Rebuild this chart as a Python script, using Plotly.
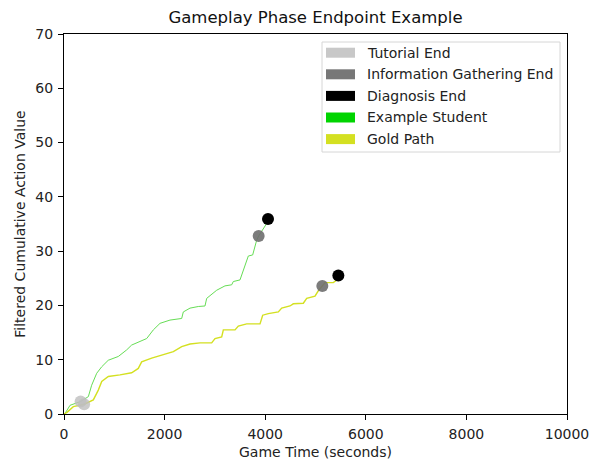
import plotly.graph_objects as go

# ── Data ──────────────────────────────────────────────────────────────────────
student_t = [0, 20, 120, 330, 484, 550, 650, 750, 880, 1080, 1245, 1345, 1644,
             1776, 1909, 2107, 2340, 2372, 2505, 2670, 2803, 2837, 3036, 3200,
             3334, 3366, 3499, 3598, 3664, 3751, 3830, 3870, 4030, 4056]
student_v = [0, 0.1, 1.6, 2.3, 3.2, 5.3, 7.5, 8.7, 9.9, 10.6, 11.8, 12.7, 13.9,
             15.5, 16.7, 17.3, 17.6, 18.8, 19.5, 19.8, 19.9, 21.3, 22.8, 23.6,
             23.8, 24.4, 24.7, 27.4, 29.1, 29.3, 32.0, 32.8, 35.1, 35.9]

gold_t = [0, 60, 185, 400, 583, 682, 750, 881, 1113, 1345, 1477, 1544, 1743,
          1942, 2174, 2340, 2505, 2704, 2936, 3002, 3135, 3168, 3400, 3466,
          3632, 3897, 3950, 4062, 4261, 4328, 4493, 4559, 4758, 4825, 4990,
          5056, 5136, 5189, 5354, 5454, 5454]
gold_v = [0, 0.3, 1.35, 1.8, 2.6, 4.4, 6.0, 6.9, 7.2, 7.6, 8.4, 9.6, 10.3,
          10.9, 11.5, 12.4, 12.9, 13.1, 13.1, 13.9, 14.2, 15.5, 15.5, 16.2,
          16.6, 16.6, 18.2, 18.5, 18.8, 19.5, 19.9, 20.3, 20.4, 21.3, 21.7,
          22.7, 23.6, 24.2, 24.2, 24.9, 25.5]

# phase endpoints: [student, gold]
tutorial_t, tutorial_v = [330, 400], [2.3, 1.8]
info_t, info_v = [3870, 5136], [32.8, 23.6]
diag_t, diag_v = [4056, 5454], [35.9, 25.5]

legend_labels = ['Tutorial End', 'Information Gathering End', 'Diagnosis End',
                 'Example Student', 'Gold Path']
legend_colors = ['#c8c8c8', '#777777', '#000000', '#00d400', '#d4e021']

x_ticks = [0, 2000, 4000, 6000, 8000, 10000]
x_ticktext = ['0', '2000', '4000', '6000', '8000', '10000']
y_ticks = [0, 10, 20, 30, 40, 50, 60, 70]

FONT = 'DejaVu Sans'

fig = go.Figure()

fig.add_trace(go.Scatter(x=student_t, y=student_v, mode='lines',
                         line=dict(color='#66dd55', width=1)))
fig.add_trace(go.Scatter(x=gold_t, y=gold_v, mode='lines',
                         line=dict(color='#d4e021', width=1.4)))

fig.add_trace(go.Scatter(x=tutorial_t, y=tutorial_v, mode='markers',
                         marker=dict(color='rgba(190,190,190,0.8)', size=12)))
fig.add_trace(go.Scatter(x=info_t, y=info_v, mode='markers',
                         marker=dict(color='rgba(110,110,110,0.9)', size=12)))
fig.add_trace(go.Scatter(x=diag_t, y=diag_v, mode='markers',
                         marker=dict(color='#000000', size=12)))

# ── Layout in screen pixels (page body adds an 8px offset) ────────────────────
OFF = 8
SW, SH = 597, 460
W, H = SW - OFF, SH - OFF
left, right, top, bottom = 64, 567, 34, 414   # plot box on screen
ml, mt = left - OFF, top - OFF
mr, mb = SW - right, SH - bottom
pw, ph = right - left, bottom - top


def px(x):
    return (x - left) / pw


def py(y):
    return (bottom - y) / ph


# legend drawn as patches (matplotlib-style)
fig.add_shape(type='rect', xref='paper', yref='paper',
              x0=px(322), x1=px(560), y0=py(152), y1=py(42),
              line=dict(color='#d6d6d6', width=1), fillcolor='rgba(255,255,255,0.85)')
for i, (lab, col) in enumerate(zip(legend_labels, legend_colors)):
    yc = 52.7 + i * 21.6
    fig.add_shape(type='rect', xref='paper', yref='paper',
                  x0=px(326), x1=px(355), y0=py(yc + 5), y1=py(yc - 5),
                  line=dict(width=0), fillcolor=col)
    fig.add_annotation(x=px(365), y=py(yc), xref='paper', yref='paper',
                       text=lab, showarrow=False, xanchor='left', yanchor='middle',
                       font=dict(family=FONT, size=14, color='#222222'))

axis_common = dict(showline=True, mirror=True, linecolor='black', linewidth=1,
                   ticks='outside', ticklen=5, tickcolor='black', showgrid=False,
                   zeroline=False, automargin=False, ticklabelstandoff=2,
                   tickfont=dict(family=FONT, size=14, color='#222222'))

fig.update_layout(
    width=W, height=H,
    margin=dict(l=ml, r=mr, t=mt, b=mb),
    paper_bgcolor='white', plot_bgcolor='white',
    showlegend=False,
    title=dict(text='Gameplay Phase Endpoint Example',
               x=(left + pw / 2 - OFF) / W, xanchor='center',
               y=1 - (17 - OFF) / H, yanchor='middle',
               font=dict(family=FONT, size=16.5, color='#111111')),
    xaxis=dict(range=[0, 10000], tickvals=x_ticks, ticktext=x_ticktext,
               title=dict(text='Game Time (seconds)', standoff=6,
                          font=dict(family=FONT, size=14, color='#222222')),
               **axis_common),
    yaxis=dict(range=[0, 70], tickvals=y_ticks,
               title=dict(text='Filtered Cumulative Action Value', standoff=6,
                          font=dict(family=FONT, size=14, color='#222222')),
               **axis_common),
)

fig.write_html('out.html')
